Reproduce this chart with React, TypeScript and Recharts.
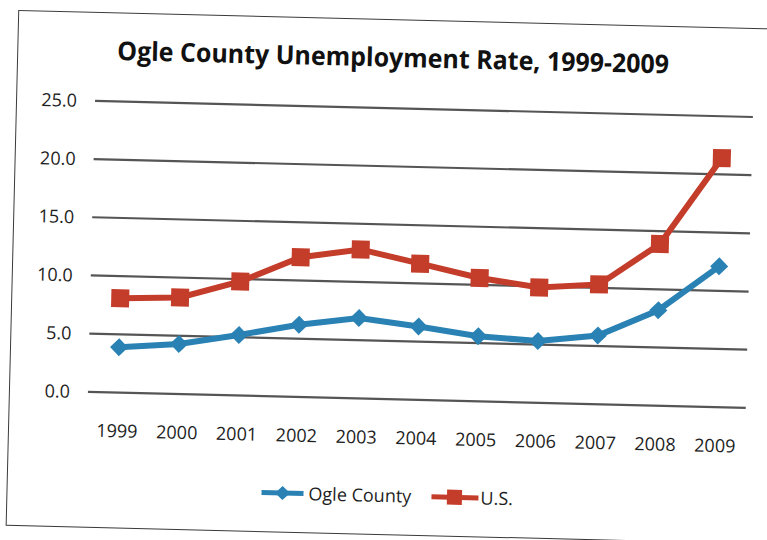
import { CartesianGrid, Line, LineChart, XAxis, YAxis } from "recharts"

const years = ["1999", "2000", "2001", "2002", "2003", "2004", "2005", "2006", "2007", "2008", "2009"]
const ogleCounty = [3.9, 4.3, 5.2, 6.2, 6.9, 6.3, 5.6, 5.3, 5.9, 8.2, 12.1]
const unitedStates = [8.1, 8.3, 9.8, 12.0, 12.8, 11.7, 10.6, 9.9, 10.3, 13.9, 21.4]
const yTicks = [0, 5, 10, 15, 20, 25]

const BLUE = "#2a82b4"
const RED = "#c43d2a"
const FONT = "'Open Sans', sans-serif"

const data = years.map((year, i) => ({ year, ogle: ogleCounty[i], us: unitedStates[i] }))

function Diamond(props: any) {
  const { cx, cy, index } = props
  if (cx == null || cy == null) return null
  const r = 9
  return (
    <polygon
      key={`ogle-${index}`}
      points={`${cx},${cy - r} ${cx + r},${cy} ${cx},${cy + r} ${cx - r},${cy}`}
      fill={BLUE}
    />
  )
}

function Square(props: any) {
  const { cx, cy, index } = props
  if (cx == null || cy == null) return null
  const s = 18
  return <rect key={`us-${index}`} x={cx - s / 2} y={cy - s / 2} width={s} height={s} fill={RED} />
}

export default function App() {
  return (
    <div style={{ position: "absolute", left: 0, top: 0, width: 767, height: 540, overflow: "hidden", background: "#fff" }}>
      <div style={{ position: "absolute", left: 0, top: 0, width: 767, height: 540, transform: "rotate(1.4deg)", transformOrigin: "383.5px 270px" }}>
        {/* chart frame, runs off the right edge in the scan */}
        <div style={{ position: "absolute", left: 12, top: 19, width: 800, height: 514, border: "1.5px solid #3a3a3a" }} />
        <div style={{ position: "absolute", left: 0, top: 0 }}>
          <LineChart width={767} height={540} data={data} margin={{ top: 108, right: 18, bottom: 111, left: 0 }}>
            <CartesianGrid vertical={false} stroke="#555" strokeWidth={2.2} />
            <XAxis
              dataKey="year"
              height={30}
              axisLine={false}
              tickLine={false}
              tickSize={10}
              tickMargin={22}
              padding={{ left: 30, right: 30 }}
              interval={0}
              tick={{ fill: "#1e1e1e", fontSize: 18, fontFamily: FONT }}
            />
            <YAxis
              width={91}
              domain={[0, 25]}
              ticks={yTicks}
              axisLine={false}
              tickLine={false}
              tickSize={8}
              tickMargin={10}
              tickFormatter={(v: number) => v.toFixed(1)}
              tick={{ fill: "#1e1e1e", fontSize: 18, fontFamily: FONT }}
            />
            <Line dataKey="ogle" name="Ogle County" stroke={BLUE} strokeWidth={6} dot={Diamond} activeDot={false} isAnimationActive={false} />
            <Line dataKey="us" name="U.S." stroke={RED} strokeWidth={6} dot={Square} activeDot={false} isAnimationActive={false} />
          </LineChart>
        </div>
        <svg width={767} height={540} style={{ position: "absolute", left: 0, top: 0, pointerEvents: "none" }}>
          <text
            x={388}
            y={66.5}
            textAnchor="middle"
            textLength={552}
            lengthAdjust="spacingAndGlyphs"
            fontFamily={FONT}
            fontWeight={700}
            fontSize={26}
            fill="#111"
          >
            Ogle County Unemployment Rate, 1999-2009
          </text>
          {/* legend */}
          <line x1={267} y1={495.5} x2={309} y2={495.5} stroke={BLUE} strokeWidth={5} />
          <polygon points="288,488.5 295.5,495.5 288,502.5 280.5,495.5" fill={BLUE} />
          <text x={314} y={502} fontFamily={FONT} fontSize={18} fill="#1e1e1e">
            Ogle County
          </text>
          <line x1={437} y1={495.5} x2={484} y2={495.5} stroke={RED} strokeWidth={5} />
          <rect x={452.5} y={488} width={15} height={15} fill={RED} />
          <text x={486} y={502} fontFamily={FONT} fontSize={18} fill="#1e1e1e">
            U.S.
          </text>
        </svg>
      </div>
    </div>
  )
}
